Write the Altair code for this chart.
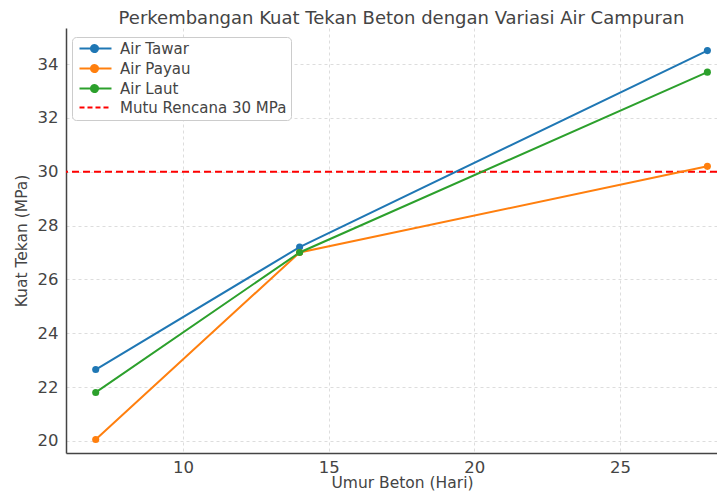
import altair as alt
import pandas as pd

# ---- data ----
umur = [7, 14, 28]
air_tawar = [22.65, 27.2, 34.5]
air_payau = [20.05, 27.0, 30.2]
air_laut = [21.8, 27.0, 33.7]
series_names = ["Air Tawar", "Air Payau", "Air Laut"]
rule_name = "Mutu Rencana 30 MPa"
mutu_rencana = [30]
colors = ["#1f77b4", "#ff7f0e", "#2ca02c", "#ff0000"]
x_ticks = [10, 15, 20, 25]
y_ticks = [20, 22, 24, 26, 28, 30, 32, 34]

rows = []
for name, vals in zip(series_names, [air_tawar, air_payau, air_laut]):
    for u, v in zip(umur, vals):
        rows.append({"seri": name, "umur": u, "kuat": v})
df = pd.DataFrame(rows)
df_rule = pd.DataFrame({"seri": [rule_name], "kuat": mutu_rencana})

domain = series_names + [rule_name]
FONT = "DejaVu Sans"
TXT = "#444444"

LINE_SYM = "M-0.667,0H4.667"
PT_SYM = "M2.42,0A0.58,0.58,0,1,1,1.25,0A0.58,0.58,0,1,1,2.42,0Z"

color = alt.Color(
    "seri:N",
    scale=alt.Scale(domain=domain, range=colors),
    legend=alt.Legend(
        title=None,
        orient="none",
        legendX=6,
        legendY=9,
        fillColor="white",
        strokeColor="#cccccc",
        cornerRadius=4,
        padding=4,
        labelFont=FONT,
        labelFontSize=15,
        labelColor=TXT,
        labelLimit=400,
        labelOffset=29,
        rowPadding=3,
        symbolSize=144,
        symbolStrokeWidth=2,
        symbolType={"expr": "datum.value == '" + rule_name + "' ? '" + LINE_SYM + "' : '" + LINE_SYM + PT_SYM + "'"},
        symbolDash={"expr": "datum.value == '" + rule_name + "' ? [5,3] : [1,0]"},
        symbolFillColor={"expr": "datum.value == '" + rule_name + "' ? 'transparent' : scale('color', datum.value)"},
    ),
)

x_enc = alt.X(
    "umur:Q",
    scale=alt.Scale(domain=[5.98, 28.33], nice=False, zero=False),
    axis=alt.Axis(
        title="Umur Beton (Hari)",
        values=x_ticks,
        titleX=336,
        titleY=34,
        titleAnchor="start",
        titleAlign="center",
        titleBaseline="alphabetic",
    ),
)
y_enc = alt.Y(
    "kuat:Q",
    scale=alt.Scale(domain=[19.55, 35.34], nice=False, zero=False),
    axis=alt.Axis(title="Kuat Tekan (MPa)", values=y_ticks),
)

base = alt.Chart(df)
lines = base.mark_line(strokeWidth=2).encode(x=x_enc, y=y_enc, color=color)
points = base.mark_point(filled=True, size=50, opacity=1).encode(x=x_enc, y=y_enc, color=color)
rule = alt.Chart(df_rule).mark_rule(strokeWidth=1.8, strokeDash=[7, 4]).encode(
    y=alt.Y("kuat:Q"), color=color
)

chart = (
    alt.layer(rule, lines, points)
    .properties(
        width=651,
        height=425,
        autosize=alt.AutoSizeParams(type="none"),
        padding={"left": 58, "top": 20, "right": 0, "bottom": 38},
        title=alt.Title(
            "Perkembangan Kuat Tekan Beton dengan Variasi Air Campuran",
            font=FONT,
            fontSize=18,
            fontWeight="normal",
            color=TXT,
            anchor="middle",
            offset=0,
            dx=10,
        ),
    )
    .configure_view(stroke=None)
    .configure_axis(
        labelFont=FONT,
        labelFontSize=16.5,
        labelColor=TXT,
        titleFont=FONT,
        titleFontSize=15.5,
        titleFontWeight="normal",
        titleColor=TXT,
        domainColor="#444444",
        domainWidth=1.5,
        ticks=False,
        grid=True,
        gridColor="#d4d4d4",
        gridDash=[3, 3],
        gridWidth=0.8,
    )
    .configure_axisX(labelPadding=6, titlePadding=1)
    .configure_axisY(labelPadding=8, titlePadding=8)
)

chart.save("out.html", embed_options={"renderer": "svg", "actions": False})
